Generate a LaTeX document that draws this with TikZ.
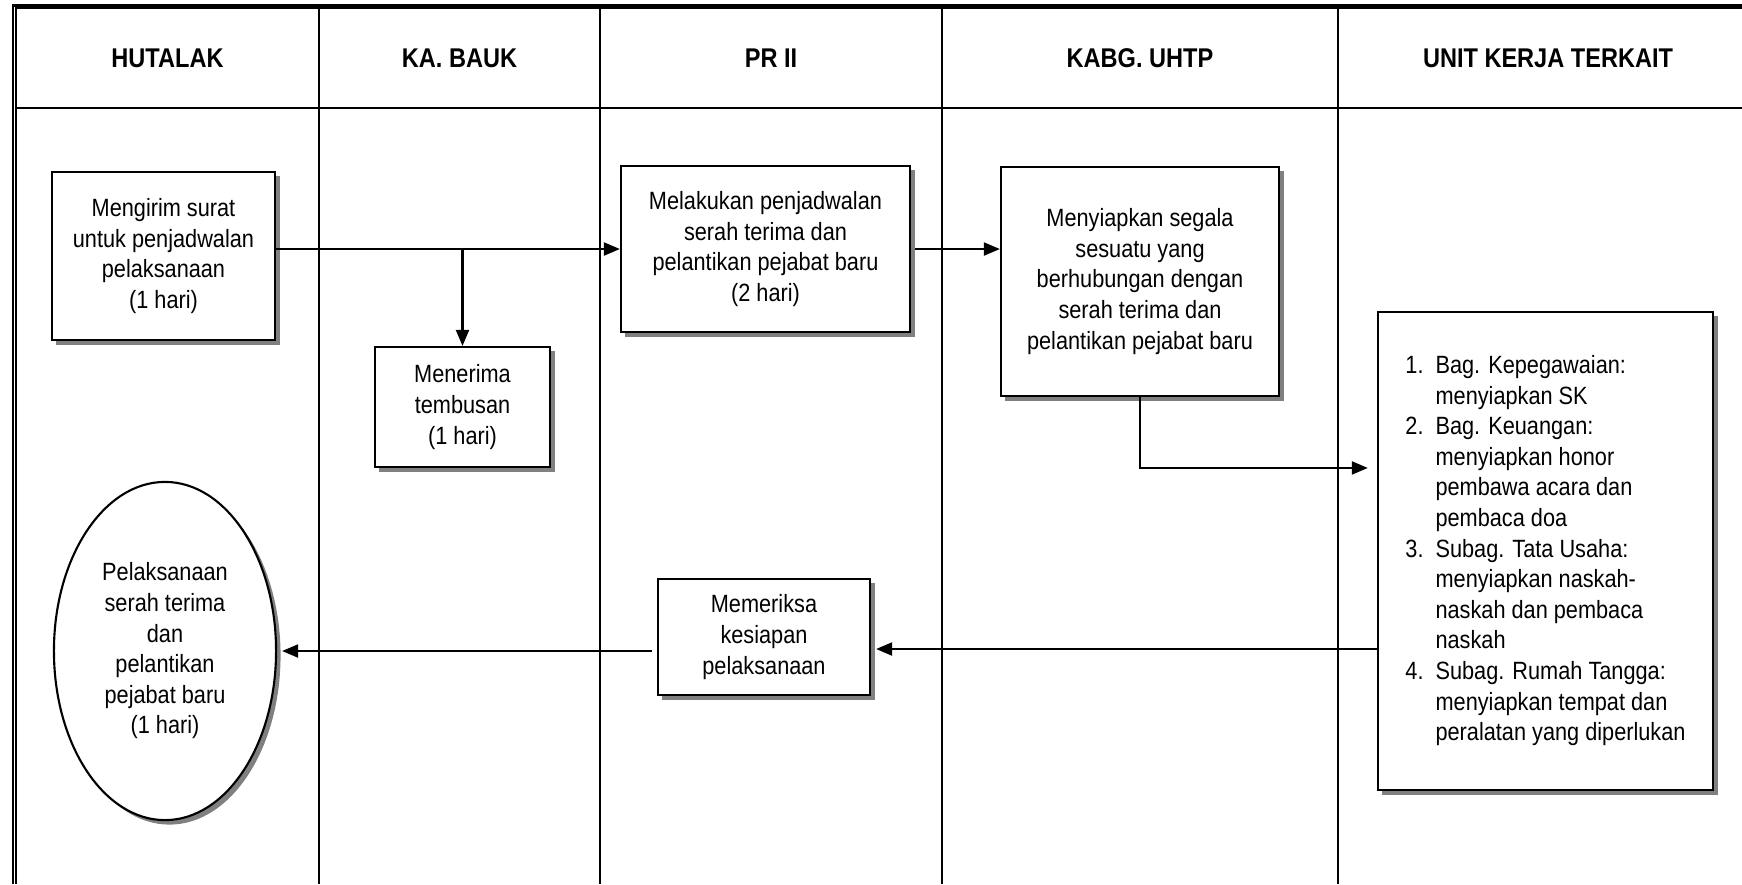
\documentclass[tikz,border=0pt]{standalone}
\usepackage{fontspec}
\setmainfont{Liberation Sans}[FakeStretch=0.87]
\usetikzlibrary{arrows.meta,shapes.geometric,shadows}

\begin{document}
\begin{tikzpicture}[x=0.01cm, y=-0.01cm, line width=0.6pt,
    >={Triangle[length=0.16cm,width=0.13cm]},
    main node/.style={rectangle, draw, fill=white, align=center,
      drop shadow={shadow xshift=0.045cm, shadow yshift=-0.045cm, fill=gray, opacity=1}},
    end node/.style={main node, ellipse},
    head/.style={font=\bfseries\fontsize{7.7pt}{9pt}\selectfont}]
        \tikzstyle{every node}=[font=\fontsize{7.1pt}{8.7pt}\selectfont, inner sep=0pt]
        \useasboundingbox (0,0) rectangle (1742,884);

        % table frame and lanes
        \draw (13,884) -- (13,5.5) -- (1742,5.5);
        \draw (16,884) -- (16,8.3) -- (1742,8.3);
        \draw (16,108) -- (1742,108);
        \foreach \x in {319,600,942,1338}
          \draw (\x,8.3) -- (\x,884);

          \node[head] (h1) at (167.5,58) {HUTALAK};
          \node[head] (h2) at (459.5,58) {KA. BAUK};
          \node[head] (h3) at (771,58) {PR II};
          \node[head] (h4) at (1140,58) {KABG. UHTP};
          \node[head] (h5) at (1548,58) {UNIT KERJA TERKAIT};

          \node[main node, minimum width=2.23cm, minimum height=1.68cm] (1) at (163.5,256)
            {Mengirim surat\\untuk penjadwalan\\pelaksanaan\\(1 hari)};
          \node[main node, minimum width=1.75cm, minimum height=1.20cm] (2) at (462.5,407)
            {Menerima\\tembusan\\(1 hari)};
          \node[main node, minimum width=2.89cm, minimum height=1.66cm] (3) at (765.5,249)
            {Melakukan penjadwalan\\serah terima dan\\pelantikan pejabat baru\\(2 hari)};
          \node[main node, minimum width=2.78cm, minimum height=2.29cm] (4) at (1140,281.5)
            {Menyiapkan segala\\sesuatu yang\\berhubungan dengan\\serah terima dan\\pelantikan pejabat baru};
          \node[main node, minimum width=3.35cm, minimum height=4.78cm] (5) at (1545.5,551)
            {\begin{tabular}{@{}l@{\hspace{0.12cm}}l@{}}
              1. & Bag. Kepegawaian:\\
                 & menyiapkan SK\\
              2. & Bag. Keuangan:\\
                 & menyiapkan honor\\
                 & pembawa acara dan\\
                 & pembaca doa\\
              3. & Subag. Tata Usaha:\\
                 & menyiapkan naskah-\\
                 & naskah dan pembaca\\
                 & naskah\\
              4. & Subag. Rumah Tangga:\\
                 & menyiapkan tempat dan\\
                 & peralatan yang diperlukan
            \end{tabular}};
          \node[main node, minimum width=2.12cm, minimum height=1.16cm] (6) at (764,637)
            {Memeriksa\\kesiapan\\pelaksanaan};
          \node[end node, minimum width=2.22cm, minimum height=3.38cm] (7) at (165,651)
            {Pelaksanaan\\serah terima\\dan\\pelantikan\\pejabat baru\\(1 hari)};

          \coordinate (back) at (0,649);

          \path[->]
            (1.east |- 3.west) edge (3.west)
            (2.north |- 3.west) edge (2.north)
            ([xshift=0.04cm]3.east) edge (3.east -| 4.west)
            (5.west |- back) edge ([xshift=0.05cm]6.east |- back)
            ([xshift=-0.05cm]6.west |- 7.east) edge ([xshift=0.05cm]7.east);
          \draw[->] (4.south) |- ([xshift=-0.09cm, yshift=0.83cm]5.west);

        \end{tikzpicture}
\end{document}
